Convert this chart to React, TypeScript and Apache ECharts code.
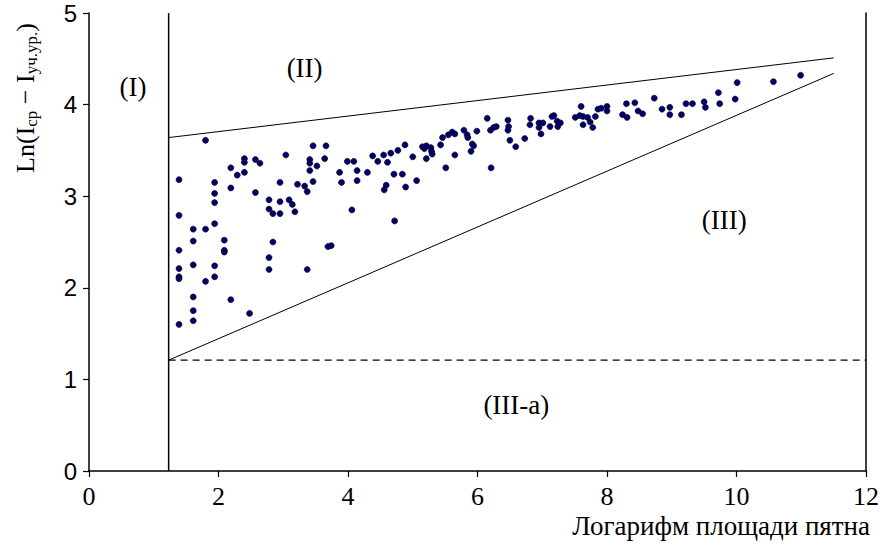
import React, { useEffect, useRef } from "react";
import * as echarts from "echarts";

// Logarithm of spot area (x) and Ln(I_ср − I_уч.ур.) (y)
const spotLogArea = [
  1.80, 3.46, 3.66, 3.04, 2.40, 2.40, 2.57, 2.64, 2.19, 2.29, 2.40, 3.41, 3.41, 3.52, 3.64, 3.41,
  3.99, 3.87, 3.90, 1.39, 1.94, 1.94, 1.94, 2.19, 2.57, 2.95, 3.22, 3.33, 3.37, 3.46, 2.78, 2.95,
  3.09, 3.14, 2.78, 2.84, 2.95, 3.18, 1.39, 1.61, 1.80, 1.94, 1.61, 2.09, 2.09, 2.09, 2.84, 3.69,
  3.74, 1.39, 1.61, 1.94, 2.78, 2.78, 3.37, 1.39, 1.39, 1.39, 1.80, 1.94, 1.61, 2.19, 1.61, 2.48,
  1.61, 1.39,
  6.47, 6.48, 6.47, 6.29, 6.25, 6.20, 6.50, 6.59, 6.73, 5.79, 5.99, 5.84, 5.85, 5.61, 5.65, 5.55,
  5.46, 5.43, 5.92, 5.94, 5.90, 5.65, 5.51, 6.21, 5.15, 5.21, 5.28, 5.18, 5.29, 5.30, 5.21, 5.00,
  4.88, 4.77, 4.66, 4.55, 4.38, 4.46, 4.61, 4.09, 4.14, 4.30, 4.14, 4.71, 4.84, 5.06, 4.59, 4.56,
  4.89, 4.06, 4.72, 6.15,
  6.82, 6.81, 6.95, 7.01, 6.95, 6.98, 7.12, 7.15, 7.18, 7.23, 7.28, 7.24, 7.51, 7.58, 7.60, 7.63,
  7.63, 7.70, 7.74, 7.78, 7.82, 7.86, 7.91, 8.00, 8.00, 8.24, 8.31, 8.30, 8.43, 8.48, 8.55, 8.73,
  8.85, 8.97, 8.97, 9.15, 9.22, 9.32,
  9.50, 9.52, 9.72, 9.74, 9.98, 10.01, 10.57, 10.99,
];
const spotLnDiff = [
  3.61, 3.55, 3.55, 3.45, 3.41, 3.37, 3.40, 3.36, 3.31, 3.23, 3.26, 3.40, 3.36, 3.33, 3.41, 3.28,
  3.38, 3.26, 3.15, 3.18, 3.15, 3.03, 2.93, 3.09, 3.04, 3.15, 3.13, 3.11, 3.05, 3.16, 2.96, 2.94,
  2.96, 2.91, 2.86, 2.81, 2.81, 2.83, 2.79, 2.64, 2.64, 2.70, 2.51, 2.52, 2.41, 2.39, 2.50, 2.45,
  2.46, 2.41, 2.25, 2.24, 2.33, 2.20, 2.20, 2.21, 2.12, 2.10, 2.07, 2.12, 1.90, 1.87, 1.75, 1.72,
  1.64, 1.60,
  3.83, 3.76, 3.72, 3.76, 3.75, 3.72, 3.61, 3.54, 3.63, 3.72, 3.71, 3.67, 3.64, 3.70, 3.68, 3.67,
  3.64, 3.56, 3.57, 3.55, 3.49, 3.45, 3.31, 3.31, 3.54, 3.55, 3.53, 3.52, 3.49, 3.46, 3.41, 3.43,
  3.56, 3.50, 3.47, 3.45, 3.44, 3.38, 3.37, 3.38, 3.28, 3.26, 3.17, 3.24, 3.24, 3.17, 3.12, 3.07,
  3.10, 2.85, 2.73, 3.85,
  3.85, 3.78, 3.80, 3.80, 3.75, 3.68, 3.76, 3.87, 3.88, 3.82, 3.80, 3.76, 3.86, 3.88, 3.98, 3.87,
  3.78, 3.86, 3.81, 3.75, 3.87, 3.95, 3.96, 3.98, 3.93, 3.89, 3.86, 4.01, 4.02, 3.93, 3.90, 4.07,
  3.95, 3.97, 3.89, 3.89, 4.01, 4.01,
  4.03, 3.97, 4.13, 4.01, 4.06, 4.24, 4.25, 4.32,
];

// Region boundaries
const cutoffX = [1.23, 1.23];
const cutoffY = [0, 5];
const upperBoundX = [1.23, 11.5];
const upperBoundY = [3.64, 4.51];
const lowerBoundX = [1.23, 11.5];
const lowerBoundY = [1.21, 4.34];
const thresholdX = [1.23, 12];
const thresholdY = [1.21, 1.21];

// Region labels
const zoneNames = ["(I)", "(II)", "(III)", "(III-a)"];
const zoneX = [0.68, 3.33, 9.81, 6.6];
const zoneY = [4.19, 4.4, 2.74, 0.72];

const xMin = 0;
const xMax = 12;
const xStep = 2;
const yMin = 0;
const yMax = 5;
const yStep = 1;

const SERIF = "'Liberation Serif', 'Times New Roman', serif";
const SANS = "'Liberation Sans', Arial, sans-serif";

const pairs = (xs: number[], ys: number[]) => xs.map((x, i) => [x, ys[i]]);

export default function App() {
  const ref = useRef<HTMLDivElement>(null);

  useEffect(() => {
    if (!ref.current) return;
    const chart = echarts.init(ref.current, undefined, { renderer: "svg" });
    const boundLine = (xs: number[], ys: number[], type: any = "solid", width = 1) => ({
      type: "line",
      data: pairs(xs, ys),
      symbol: "none",
      silent: true,
      lineStyle: { color: "#000", width, type },
      z: 2,
    });
    chart.setOption({
      animation: false,
      backgroundColor: "#fff",
      grid: { left: 89, right: 12, top: 13, bottom: 77 },
      xAxis: {
        type: "value",
        min: xMin,
        max: xMax,
        interval: xStep,
        axisLine: { show: true, onZero: false, lineStyle: { color: "#000", width: 1.5 } },
        axisTick: { show: true, length: 6, lineStyle: { color: "#000", width: 1.2 } },
        axisLabel: { color: "#000", fontFamily: SERIF, fontSize: 26, margin: 12 },
        splitLine: { show: false },
      },
      yAxis: [
        {
          type: "value",
          min: yMin,
          max: yMax,
          interval: yStep,
          axisLine: { show: true, lineStyle: { color: "#000", width: 1.5 } },
          axisTick: { show: true, length: 6, lineStyle: { color: "#000", width: 1.2 } },
          axisLabel: { color: "#000", fontFamily: SANS, fontSize: 24, margin: 12 },
          splitLine: { show: false },
        },
        {
          type: "value",
          position: "right",
          min: yMin,
          max: yMax,
          interval: yStep,
          axisLine: { show: true, lineStyle: { color: "#000", width: 1.5 } },
          axisTick: { show: false },
          axisLabel: { show: false },
          splitLine: { show: false },
        },
      ],
      series: [
        boundLine(cutoffX, cutoffY, "solid", 1.5),
        boundLine(upperBoundX, upperBoundY),
        boundLine(lowerBoundX, lowerBoundY),
        boundLine(thresholdX, thresholdY, [7, 5], 1.3),
        {
          type: "scatter",
          data: pairs(spotLogArea, spotLnDiff),
          symbol: "circle",
          symbolSize: 6,
          itemStyle: { color: "#000066", borderColor: "#000022", borderWidth: 0.6, opacity: 1 },
          z: 3,
        },
        {
          type: "scatter",
          data: zoneNames.map((n, i) => ({ name: n, value: [zoneX[i], zoneY[i]] })),
          symbolSize: 0,
          silent: true,
          itemStyle: { color: "#000", opacity: 1 },
          label: {
            show: true,
            position: "inside",
            formatter: (p: any) => p.name,
            color: "#000",
            textBorderWidth: 0,
            textBorderColor: "transparent",
            opacity: 1,
            fontFamily: SERIF,
            fontSize: 27,
          },
          z: 4,
        },
      ],
      graphic: [
        {
          type: "text",
          x: 870,
          y: 526,
          style: {
            text: "Логарифм площади пятна",
            fill: "#000",
            align: "right",
            verticalAlign: "middle",
            font: `27px ${SERIF}`,
          },
        },
        {
          type: "text",
          x: 25,
          y: 98,
          rotation: Math.PI / 2,
          style: {
            text: "{n|Ln(I}{s|ср}{n| − I}{s|уч.ур.}{n|)}",
            align: "center",
            verticalAlign: "middle",
            fill: "#000",
            rich: {
              n: { fontFamily: SERIF, fontSize: 26, color: "#000" },
              s: { fontFamily: SERIF, fontSize: 17, color: "#000", padding: [12, 0, 0, 0] },
            },
          },
        },
      ],
    });
    return () => chart.dispose();
  }, []);

  return (
    <div
      ref={ref}
      style={{ position: "absolute", left: 0, top: 0, width: 882, height: 548, background: "#fff" }}
    />
  );
}
